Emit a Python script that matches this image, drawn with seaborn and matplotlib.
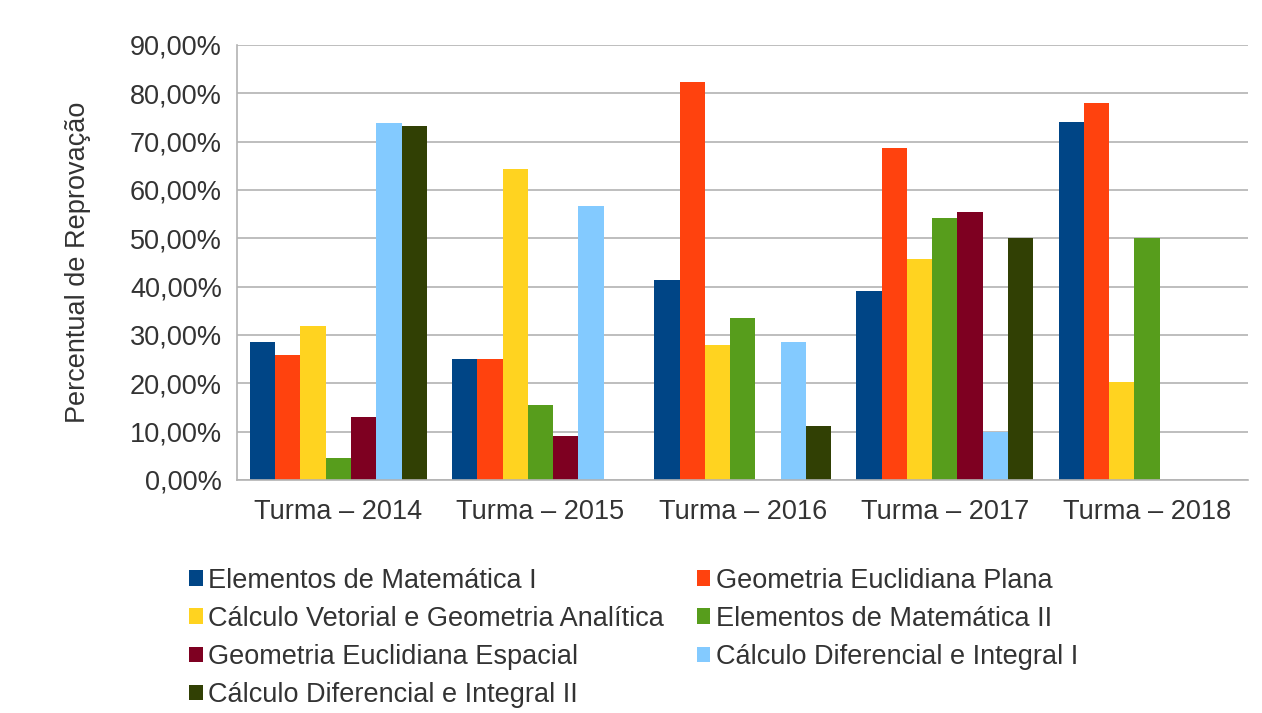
import matplotlib
matplotlib.use("Agg")
import matplotlib.pyplot as plt
import seaborn as sns
import pandas as pd
from matplotlib.ticker import FuncFormatter, FixedLocator

# categories and series
turmas = ['Turma – 2014', 'Turma – 2015', 'Turma – 2016', 'Turma – 2017', 'Turma – 2018']
disciplinas = [
    'Elementos de Matemática I',
    'Geometria Euclidiana Plana',
    'Cálculo Vetorial e Geometria Analítica',
    'Elementos de Matemática II',
    'Geometria Euclidiana Espacial',
    'Cálculo Diferencial e Integral I',
    'Cálculo Diferencial e Integral II',
]
elem_mat_1 = [28.6, 25.0, 41.4, 39.0, 74.1]
geo_plana = [25.9, 25.0, 82.4, 68.6, 77.9]
calc_vet = [31.9, 64.3, 27.9, 45.7, 20.2]
elem_mat_2 = [4.6, 15.4, 33.4, 54.1, 50.0]
geo_espacial = [13.1, 9.1, 0.0, 55.5, 0.0]
calc_1 = [73.8, 56.6, 28.6, 10.0, 0.0]
calc_2 = [73.3, 0.0, 11.2, 50.0, 0.0]

series = [elem_mat_1, geo_plana, calc_vet, elem_mat_2, geo_espacial, calc_1, calc_2]
cores = ['#004586', '#ff420e', '#ffd320', '#579d1c', '#7e0021', '#83caff', '#314004']

rows = []
for nome, vals in zip(disciplinas, series):
    for t, v in zip(turmas, vals):
        rows.append({'Turma': t, 'Disciplina': nome, 'Percentual': v})
df = pd.DataFrame(rows)

sns.set_style("white")
plt.rcParams['font.family'] = ['Liberation Sans', 'DejaVu Sans']
fs = 19.5

fig = plt.figure(figsize=(12.62, 7.13), dpi=100)
ax = fig.add_axes([0.188, 0.327, 0.801, 0.610])

sns.barplot(data=df, x='Turma', y='Percentual', hue='Disciplina',
            hue_order=disciplinas, order=turmas, palette=cores,
            width=0.875, saturation=1, errorbar=None, linewidth=0, ax=ax)

ax.set_ylim(0, 90)
ax.set_xlim(-0.5, 4.5)
ax.set_yticks(range(0, 91, 10))
ax.yaxis.set_major_formatter(FuncFormatter(lambda v, p: f"{v:.2f}".replace('.', ',') + '%'))
ax.grid(axis='y', color='#b3b3b3', linewidth=1.2)
ax.set_axisbelow(True)

for s in ['top', 'right']:
    ax.spines[s].set_visible(False)
for s in ['left', 'bottom']:
    ax.spines[s].set_color('#b3b3b3')
    ax.spines[s].set_linewidth(1.2)

ax.tick_params(axis='y', length=8, color='#b3b3b3', labelsize=fs, labelcolor='#333333', pad=3)
ax.tick_params(axis='x', which='major', length=0, labelsize=fs, labelcolor='#333333', pad=14)
ax.xaxis.set_minor_locator(FixedLocator([-0.5, 0.5, 1.5, 2.5, 3.5, 4.5]))
ax.tick_params(axis='x', which='minor', length=32, color='#b3b3b3', width=1.2)

ax.set_xlabel('')
ax.set_ylabel('Percentual de Reprovação', fontsize=fs, color='#333333', labelpad=28)

handles, labels = ax.get_legend_handles_labels()
ax.get_legend().remove()
ordem = [0, 2, 4, 6, 1, 3, 5]
fig.legend([handles[i] for i in ordem], [labels[i] for i in ordem],
           ncol=2, loc='upper left', bbox_to_anchor=(0.150, 0.204),
           frameon=False, fontsize=fs, handlelength=0.5, handleheight=0.5,
           handletextpad=0.2, columnspacing=1.2, labelspacing=0.45,
           labelcolor='#333333', borderpad=0, borderaxespad=0)

fig.savefig('out.png', dpi=100)
